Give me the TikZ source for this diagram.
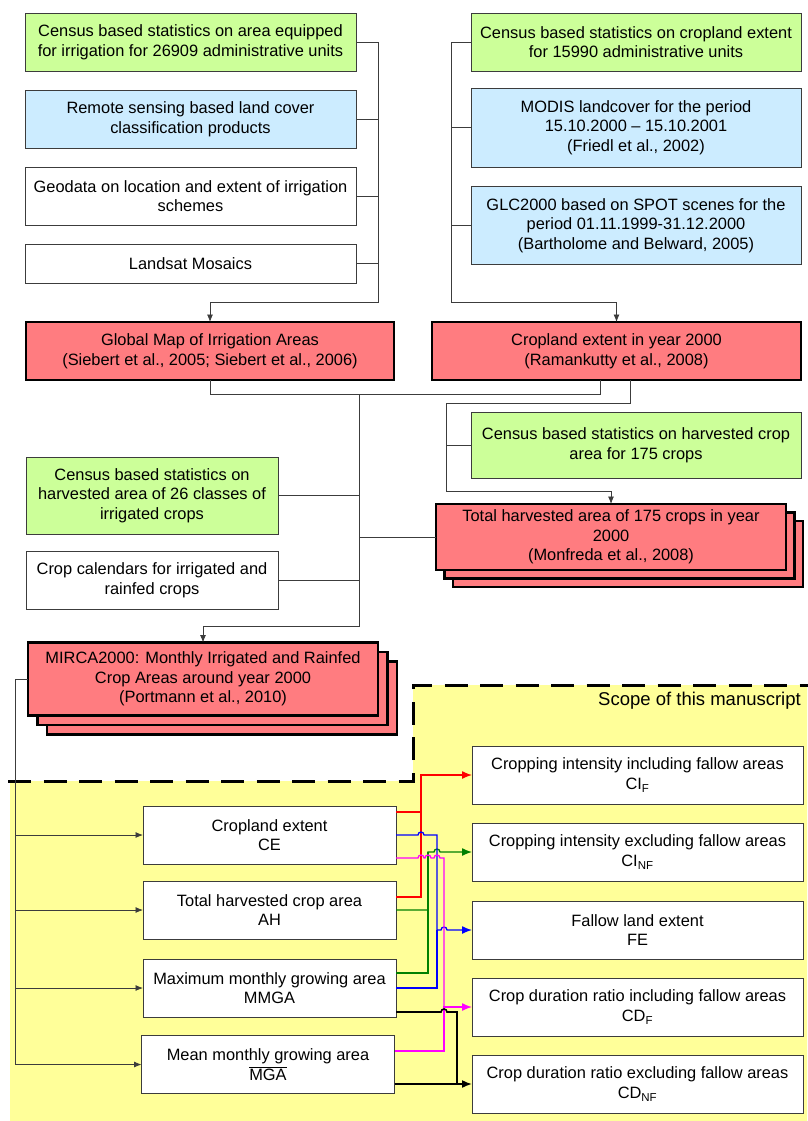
\documentclass[tikz,border=0pt]{standalone}
\usepackage{fontspec}
\setmainfont{Liberation Sans}
\usetikzlibrary{arrows,arrows.meta,shapes,positioning}

\definecolor{censusgreen}{RGB}{204,255,153}
\definecolor{rsblue}{RGB}{204,236,255}
\definecolor{prodred}{RGB}{255,124,128}
\definecolor{scopeyellow}{RGB}{255,255,153}
\definecolor{linegray}{RGB}{60,60,60}
\definecolor{darkgreen}{RGB}{0,128,0}
\definecolor{puremagenta}{RGB}{255,0,255}
\definecolor{pureblue}{RGB}{0,0,255}
\definecolor{purered}{RGB}{255,0,0}
\newcommand{\boxfont}{\fontsize{16.4pt}{19.7pt}\selectfont}

\begin{document}
\begin{tikzpicture}[x=1pt,y=-1pt,auto,>={Latex[length=7.5pt,width=6pt]}]
\useasboundingbox (0,0) rectangle (807,1121);
\begin{scope}
\tikzstyle{plain}=[draw=linegray,fill=white,rectangle,line width=0.9pt,minimum width=331pt,minimum height=58pt,inner sep=1pt,outer sep=0pt,align=center,font=\boxfont]
\tikzstyle{census}=[plain,fill=censusgreen]
\tikzstyle{remote}=[plain,fill=rsblue]
\tikzstyle{product}=[plain,draw=black,fill=prodred,line width=2.6pt]
\tikzstyle{link}=[draw=linegray,line width=0.8pt]
\tikzstyle{bigtip}=[-{Latex[length=10pt,width=8pt]}]
\tikzstyle{redlink}=[draw=purered,line width=1.3pt]
\tikzstyle{greenlink}=[draw=darkgreen,line width=1.3pt]
\tikzstyle{bluelink}=[draw=pureblue,line width=1.3pt]
\tikzstyle{maglink}=[draw=puremagenta,line width=1.3pt]
\tikzstyle{blacklink}=[draw=black,line width=1.6pt]
\tikzstyle{scopeline}=[draw=black,line width=3pt,dash pattern=on 23pt off 12.5pt]

\node[census] (irrstat) at (190.5,42) {Census based statistics on area equipped\\for irrigation for 26909 administrative units};
\node[remote] (lcprod) at (190.5,119) {Remote sensing based land cover\\classification products};
\node[plain] (geodata) at (190.5,196) {Geodata on location and extent of irrigation\\schemes};
\node[plain,minimum height=39pt] (landsat) at (190.5,263.5) {Landsat Mosaics};

\node[census,minimum width=330pt] (cropstat) at (636,42) {Census based statistics on cropland extent\\for 15990 administrative units};
\node[remote,minimum width=330pt,minimum height=79pt] (modis) at (636,127.5) {MODIS landcover for the period\\15.10.2000 -- 15.10.2001\\(Friedl et al., 2002)};
\node[remote,minimum width=330pt,minimum height=78pt] (glc) at (636,225.5) {GLC2000 based on SPOT scenes for the\\period 01.11.1999-31.12.2000\\(Bartholome and Belward, 2005)};

\node[product,minimum width=368pt] (gmia) at (210,351) {Global Map of Irrigation Areas\\(Siebert et al., 2005; Siebert et al., 2006)};
\node[product,minimum width=369pt] (cropext) at (616.5,351) {Cropland extent in year 2000\\(Ramankutty et al., 2008)};

\node[census,minimum width=330pt,minimum height=66pt] (harvstat) at (636,445) {Census based statistics on harvested crop\\area for 175 crops};
\node[census,minimum width=252pt,minimum height=77pt] (irrcrops) at (152,495.5) {Census based statistics on\\harvested area of 26 classes of\\irrigated crops};
\node[plain,minimum width=252pt] (calendar) at (152,580) {Crop calendars for irrigated and\\rainfed crops};

\node[product,minimum width=350pt,minimum height=66pt] (totharvC) at (628,554) {};
\node[product,minimum width=350pt,minimum height=66pt] (totharvB) at (619.5,545.5) {};
\node[product,minimum width=350pt,minimum height=66pt] (totharv) at (611,537) {Total harvested area of 175 crops in year\\2000\\(Monfreda et al., 2008)};

\node[product,minimum width=350pt,minimum height=73pt] (mircaC) at (222,698) {};
\node[product,minimum width=350pt,minimum height=73pt] (mircaB) at (212.5,688.5) {};
\node[product,minimum width=350pt,minimum height=73pt] (mirca) at (203,679) {MIRCA2000: Monthly Irrigated and Rainfed\\Crop Areas around year 2000\\(Portmann et al., 2010)};

\fill[scopeyellow] (10,781) -- (413,781) -- (413,685) -- (807,685) -- (807,1121) -- (10,1121) -- cycle;
\draw[scopeline] (8,781) -- (413,781) -- (413,685) -- (809,685);
\node[anchor=base east,inner sep=0pt,font=\fontsize{18.5pt}{22pt}\selectfont] (scopelabel) at (801,705) {Scope of this manuscript};

\node[plain,minimum width=253pt] (ce) at (269.5,835) {Cropland extent\\CE};
\node[plain,minimum width=253pt] (ah) at (269.5,910) {Total harvested crop area\\AH};
\node[plain,minimum width=253pt] (mmga) at (269.5,988) {Maximum monthly growing area\\MMGA};
\node[plain,minimum width=253pt] (mga) at (268,1064.5) {Mean monthly growing area\\$\overline{\mbox{MGA}}$};

\node[plain] (cif) at (637.5,775) {Cropping intensity including fallow areas\\CI\textsubscript{F}};
\node[plain] (cinf) at (637.5,852) {Cropping intensity excluding fallow areas\\CI\textsubscript{NF}};
\node[plain] (fe) at (637.5,930) {Fallow land extent\\FE};
\node[plain] (cdf) at (637.5,1007) {Crop duration ratio including fallow areas\\CD\textsubscript{F}};
\node[plain] (cdnf) at (637.5,1084) {Crop duration ratio excluding fallow areas\\CD\textsubscript{NF}};

\draw[link,->] (irrstat.east) -| (378,302) -| (gmia.north);
\draw[link] (lcprod.east) -- (lcprod.east -| 378,0);
\draw[link] (geodata.east) -- (geodata.east -| 378,0);
\draw[link] (landsat.east) -- (landsat.east -| 378,0);
\draw[link,->] (cropstat.west) -| (451,302) -| (cropext.north);
\draw[link] (modis.west) -- (modis.west -| 451,0);
\draw[link] (glc.west) -- (glc.west -| 451,0);

\draw[link] (gmia.south) |- (600,394) -- (cropext.south -| 600,0);
\draw[link,->] (gmia.south) |- (359,394) -- (359,626) -| (mirca.north);
\draw[link,->] (cropext.south -| 630,0) -- (630,403) -| (446,491) -| (totharv.north);
\draw[link] (harvstat.west) -- (harvstat.west -| 446,0);
\draw[link] (irrcrops.east) -- (irrcrops.east -| 359,0);
\draw[link] (calendar.east) -- (calendar.east -| 359,0);
\draw[link] (totharv.west -| 359,0) -- (totharv.west);

\draw[link,->] (mirca.west) -| (15,1064.5) -- (mga.west);
\draw[link,->] (ce.west -| 15,0) -- (ce.west);
\draw[link,->] (ah.west -| 15,0) -- (ah.west);
\draw[link,->] (mmga.west -| 15,0) -- (mmga.west);

\draw[redlink,bigtip] (ah.east |- 0,897) -| (421,775) -- (cif.west);
\draw[redlink] (ce.east |- 0,812) -| (421,775);
\draw[greenlink,bigtip] (ah.east) -| (428,852) -- (434,852) arc[start angle=180,end angle=0,radius=3pt] -- (cinf.west);
\draw[greenlink] (mmga.east |- 0,973) -| (428,852);
\draw[bluelink,bigtip] (ce.east) -- (418,835) arc[start angle=180,end angle=0,radius=3pt] -- (437,835) -- (437,930) -- (441,930) arc[start angle=180,end angle=0,radius=3pt] -- (fe.west);
\draw[bluelink] (mmga.east) -| (437,930);
\draw[maglink] (ce.east |- 0,858) -- (418,858) arc[start angle=180,end angle=0,radius=3pt] -- (425,858) arc[start angle=180,end angle=0,radius=3pt] -- (434,858) arc[start angle=180,end angle=0,radius=3pt] -- (444,858) -- (444,1007);
\draw[maglink,bigtip] (mga.east |- 0,1051) -| (444,1007) -- (cdf.west);
\draw[blacklink] (mmga.east |- 0,1012) -- (441,1012) arc[start angle=180,end angle=0,radius=3pt] -- (457,1012) -- (457,1084);
\draw[blacklink,bigtip] (mga.east |- cdnf.west) -- (cdnf.west);
\end{scope}
\end{tikzpicture}
\end{document}
